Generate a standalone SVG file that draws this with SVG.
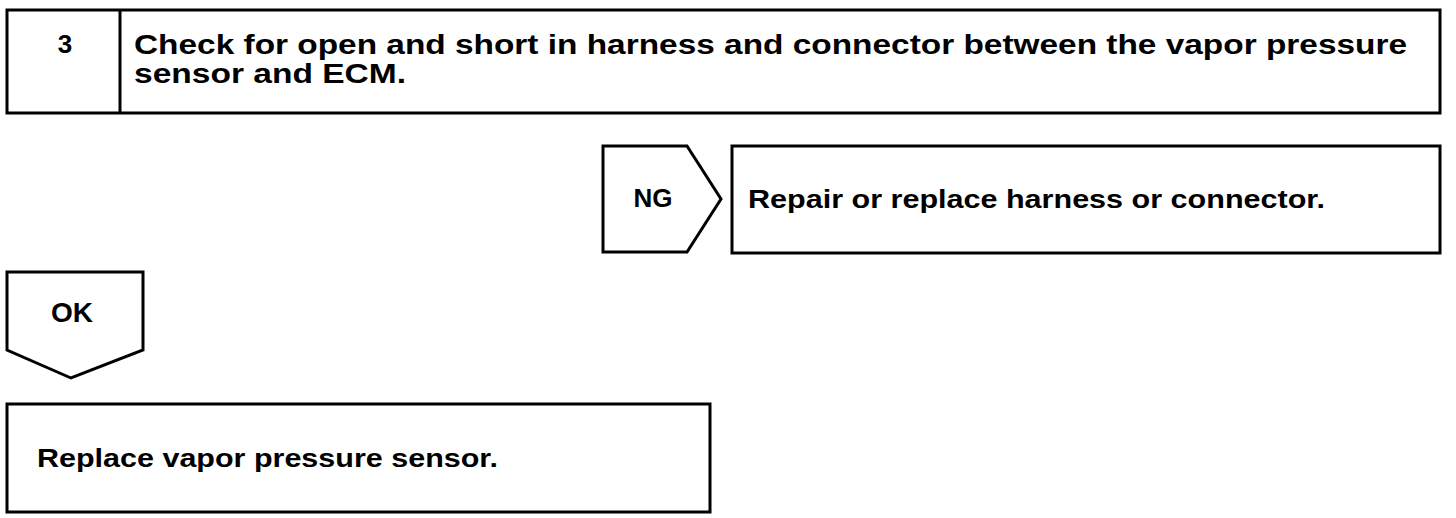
<svg xmlns="http://www.w3.org/2000/svg" width="1456" height="518" viewBox="0 0 1456 518">
<style>
.box{fill:#fff;stroke:#000;stroke-width:3}
.t{font-family:"Liberation Sans",Arial,sans-serif;font-weight:bold;fill:#000}
</style>
<rect width="1456" height="518" fill="#fff"/>
<g id="step3">
<rect class="box" x="7" y="10" width="1433" height="103"/>
<line x1="120" y1="10" x2="120" y2="113" stroke="#000" stroke-width="3"/>
<text class="t" x="65" y="53" font-size="26" text-anchor="middle">3</text>
<text class="t" x="134" y="54" font-size="28" textLength="1273" lengthAdjust="spacingAndGlyphs">Check for open and short in harness and connector between the vapor pressure</text>
<text class="t" x="134" y="83" font-size="28" textLength="272" lengthAdjust="spacingAndGlyphs">sensor and ECM.</text>
</g>
<g id="ng">
<polygon class="box" points="603,146 687,146 721,199 687,252 603,252"/>
<text class="t" x="653" y="207" font-size="26" text-anchor="middle">NG</text>
</g>
<g id="repair">
<rect class="box" x="732" y="146" width="708" height="107"/>
<text class="t" x="748" y="208" font-size="26" textLength="577" lengthAdjust="spacingAndGlyphs">Repair or replace harness or connector.</text>
</g>
<g id="ok">
<polygon class="box" points="7,272 143,272 143,350 71,378 7,350"/>
<text class="t" x="72" y="322" font-size="28" text-anchor="middle">OK</text>
</g>
<g id="replace">
<rect class="box" x="7" y="404" width="703" height="108"/>
<text class="t" x="37" y="467" font-size="26" textLength="461" lengthAdjust="spacingAndGlyphs">Replace vapor pressure sensor.</text>
</g>
<g id="connectors"></g>
</svg>
